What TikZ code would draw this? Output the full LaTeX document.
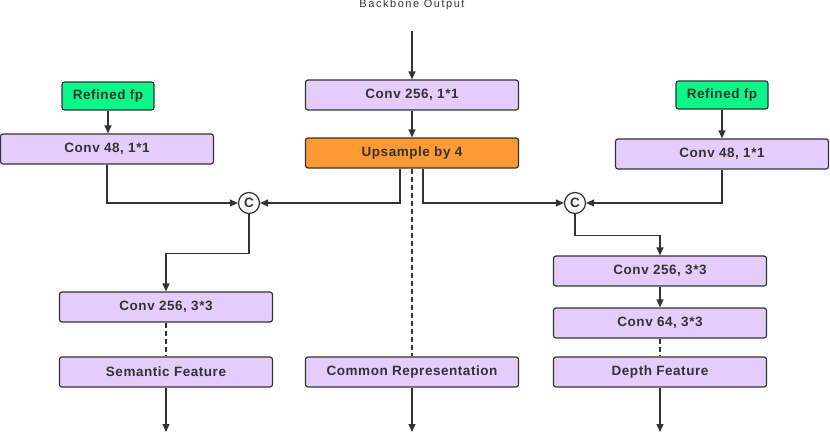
\documentclass[tikz,border=0pt]{standalone}
\usepackage{fontspec}
\setmainfont{Liberation Sans}
\newfontfamily\boxfont[LetterSpace=4]{Liberation Sans}
\newfontfamily\capfont[LetterSpace=14]{Liberation Sans}
\usepackage{tikz}
\usetikzlibrary{arrows.meta,positioning,calc}
\usepackage{xcolor}
\definecolor{edgegray}{RGB}{51,51,51}
\definecolor{lavender}{RGB}{228,205,250}
\definecolor{springgrn}{RGB}{10,248,135}
\definecolor{upsorange}{RGB}{255,153,51}

\tikzset{
  layer/.style={draw=edgegray, line width=1.2pt, rounded corners=2.5pt, fill=lavender,
    minimum width=213pt, minimum height=30pt, inner sep=0pt,
    font=\boxfont\bfseries\fontsize{13.5}{15}\selectfont, text=edgegray},
  refbox/.style={layer, fill=springgrn, minimum width=92pt, minimum height=28pt},
  upbox/.style={layer, fill=upsorange},
  catnode/.style={draw=edgegray, line width=1.2pt, circle, fill=white, minimum size=21pt,
    inner sep=0pt, font=\bfseries\fontsize{13.5}{14}\selectfont, text=edgegray},
  flow/.style={draw=edgegray, line width=1.2pt, -{Triangle[length=8pt,width=7pt]}},
  skip/.style={draw=edgegray, line width=1.2pt, dashed, dash pattern=on 5pt off 3pt}
}

\begin{document}
\begin{tikzpicture}[x=1pt, y=-1pt]
  \useasboundingbox (0,0) rectangle (830,434);
  %% centre column
  \node[font=\capfont\fontsize{11}{12}\selectfont, text=edgegray] (bbout) at (412,5) {Backbone Output};
  \coordinate (bbin) at (412,31);
  \node[layer] (conv1) at (412,95) {Conv 256, 1*1};
  \node[upbox] (upsample) at (412,153) {Upsample by 4};
  \node[layer] (common) at (412,372) {Common Representation};
  \coordinate (commonout) at (412,432);
  %% left column
  \node[refbox] (lref) at (108,96) {Refined fp};
  \node[layer] (lconv48) at (107,149) {Conv 48, 1*1};
  \node[catnode] (lcat) at (249,203) {C};
  \node[layer] (lconv3) at (166,307) {Conv 256, 3*3};
  \node[layer] (semantic) at (166,372) {Semantic Feature};
  \coordinate (semout) at (166,432);
  %% right column
  \node[refbox] (rref) at (722,95) {Refined fp};
  \node[layer] (rconv48) at (722,154) {Conv 48, 1*1};
  \node[catnode] (rcat) at (575,203) {C};
  \node[layer] (rconv3) at (660,271) {Conv 256, 3*3};
  \node[layer] (rconv64) at (660,323) {Conv 64, 3*3};
  \node[layer] (depth) at (660,372) {Depth Feature};
  \coordinate (depthout) at (660,432);

  %% connectors
  \draw[flow] (bbin) -- (conv1);
  \draw[flow] (conv1) -- (upsample);
  \draw[skip] (upsample) -- (common);
  \draw[flow] (common) -- (commonout);

  \draw[flow] (lref) -- (lconv48.north -| lref);
  \draw[flow] (lconv48.south) |- (lcat.west);
  \draw[flow] ([xshift=-12pt]upsample.south) |- (lcat.east);
  \draw[flow] (lcat.south) -- ++(0,39) -| (lconv3.north);
  \draw[skip] (lconv3) -- (semantic);
  \draw[flow] (semantic) -- (semout);

  \draw[flow] (rref) -- (rconv48);
  \draw[flow] (rconv48.south) |- (rcat.east);
  \draw[flow] ([xshift=11pt]upsample.south) |- (rcat.west);
  \draw[flow] (rcat.south) -- ++(0,21) -| (rconv3.north);
  \draw[flow] (rconv3) -- (rconv64);
  \draw[skip] (rconv64) -- (depth);
  \draw[flow] (depth) -- (depthout);
\end{tikzpicture}
\end{document}
